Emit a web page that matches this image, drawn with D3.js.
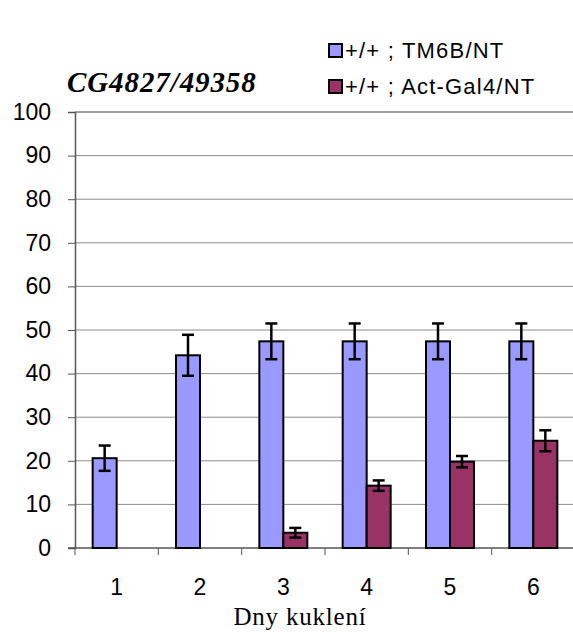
<!DOCTYPE html>
<html>
<head>
<meta charset="utf-8">
<script src="https://cdn.jsdelivr.net/npm/d3@7"></script>
<style>
  body { margin: 0; background: #fff; }
</style>
</head>
<body>
<svg></svg>
<script>
const days = ['1', '2', '3', '4', '5', '6'];
const seriesNames = ['+/+ ; TM6B/NT', '+/+ ; Act-Gal4/NT'];
const tm6bValues = [20.6, 44.2, 47.4, 47.4, 47.4, 47.4];
const tm6bErrors = [2.9, 4.7, 4.1, 4.1, 4.1, 4.1];
const actValues = [null, null, 3.5, 14.3, 19.8, 24.6];
const actErrors = [null, null, 1.1, 1.2, 1.3, 2.4];
const yTicks = [0, 10, 20, 30, 40, 50, 60, 70, 80, 90, 100];

const colors = ['#9999ff', '#993366'];
const size = {w: 573, h: 632};
const margin = {t: 112, r: -2, b: 84, l: 75};
const sans = 'Liberation Sans, Arial, sans-serif';
const serif = 'Liberation Serif, Times New Roman, serif';

const svg = d3.select('svg')
    .attr('width', size.w)
    .attr('height', size.h);

const x = d3.scaleBand()
    .domain(days)
    .range([margin.l, size.w - margin.r])
    .paddingInner(0)
    .paddingOuter(0);

const y = d3.scaleLinear()
    .domain([0, 100])
    .range([size.h - margin.b, margin.t]);

const barW = 24;

// gridlines
svg.append('g')
    .selectAll('line')
    .data(yTicks.filter(d => d > 0))
    .join('line')
    .attr('x1', margin.l)
    .attr('x2', size.w - margin.r)
    .attr('y1', d => y(d))
    .attr('y2', d => y(d))
    .attr('stroke', d => d === 100 ? '#808080' : '#8c8c8c')
    .attr('stroke-width', d => d === 100 ? 1.5 : 1);

// y axis
const yAxis = svg.append('g')
    .attr('transform', `translate(${margin.l},0)`)
    .call(d3.axisLeft(y).tickValues(yTicks).tickSize(7).tickPadding(17));
yAxis.select('.domain').attr('stroke', '#555').attr('stroke-width', 1.5);
yAxis.selectAll('.tick line').attr('stroke', '#555');
yAxis.selectAll('text')
    .attr('font-family', sans)
    .attr('font-size', 23)
    .attr('fill', '#000');

// x axis
const xTickScale = d3.scaleLinear().domain([0, days.length]).range(x.range());
const xAxis = svg.append('g')
    .attr('transform', `translate(0,${y(0)})`);
xAxis.append('line')
    .attr('x1', margin.l - 7)
    .attr('x2', size.w - margin.r)
    .attr('stroke', '#555')
    .attr('stroke-width', 1.5);
xAxis.selectAll('line.tk')
    .data(d3.range(days.length + 1))
    .join('line')
    .classed('tk', true)
    .attr('x1', d => xTickScale(d))
    .attr('x2', d => xTickScale(d))
    .attr('y1', 0)
    .attr('y2', 7)
    .attr('stroke', '#555');
xAxis.selectAll('text')
    .data(days)
    .join('text')
    .attr('x', d => x(d) + x.bandwidth() / 2)
    .attr('y', 47)
    .attr('text-anchor', 'middle')
    .attr('font-family', sans)
    .attr('font-size', 23)
    .text(d => d);

// bars
const series = [
    {vals: tm6bValues, errs: tm6bErrors, off: -barW},
    {vals: actValues, errs: actErrors, off: 0}
];

series.forEach((s, i) => {
    const pts = days.map((d, j) => ({day: d, v: s.vals[j], e: s.errs[j]}))
        .filter(p => p.v !== null);
    const g = svg.append('g');
    g.selectAll('rect')
        .data(pts)
        .join('rect')
        .attr('x', p => x(p.day) + x.bandwidth() / 2 + s.off)
        .attr('y', p => y(p.v))
        .attr('width', barW)
        .attr('height', p => y(0) - y(p.v))
        .attr('fill', colors[i])
        .attr('stroke', '#000')
        .attr('stroke-width', 2);

    // error bars
    const eb = g.selectAll('g.err')
        .data(pts)
        .join('g')
        .classed('err', true)
        .attr('transform', p => `translate(${x(p.day) + x.bandwidth() / 2 + s.off + barW / 2},0)`)
        .attr('stroke', '#000')
        .attr('stroke-width', 2.5);
    eb.append('line')
        .attr('y1', p => y(p.v + p.e))
        .attr('y2', p => y(p.v - p.e));
    eb.append('line')
        .attr('x1', -6).attr('x2', 6)
        .attr('y1', p => y(p.v + p.e))
        .attr('y2', p => y(p.v + p.e));
    eb.append('line')
        .attr('x1', -6).attr('x2', 6)
        .attr('y1', p => y(p.v - p.e))
        .attr('y2', p => y(p.v - p.e));
});

// title
svg.append('text')
    .attr('x', 67)
    .attr('y', 92)
    .attr('font-family', serif)
    .attr('font-weight', 'bold')
    .attr('font-style', 'italic')
    .attr('font-size', 29)
    .attr('letter-spacing', 0.9)
    .text('CG4827/49358');

// x axis title
svg.append('text')
    .attr('x', 300)
    .attr('y', 625)
    .attr('text-anchor', 'middle')
    .attr('font-family', serif)
    .attr('font-size', 25)
    .attr('letter-spacing', 0.8)
    .text('Dny kuklení');

// legend
const legend = svg.append('g')
    .selectAll('g')
    .data(seriesNames)
    .join('g')
    .attr('transform', (d, i) => `translate(329,${44 + i * 36})`);
legend.append('rect')
    .attr('width', 13)
    .attr('height', 13)
    .attr('fill', (d, i) => colors[i])
    .attr('stroke', '#000')
    .attr('stroke-width', 2);
legend.append('text')
    .attr('x', 16)
    .attr('y', 14)
    .attr('font-family', sans)
    .attr('font-size', 22)
    .attr('letter-spacing', 1.2)
    .text(d => d);
</script>
</body>
</html>
